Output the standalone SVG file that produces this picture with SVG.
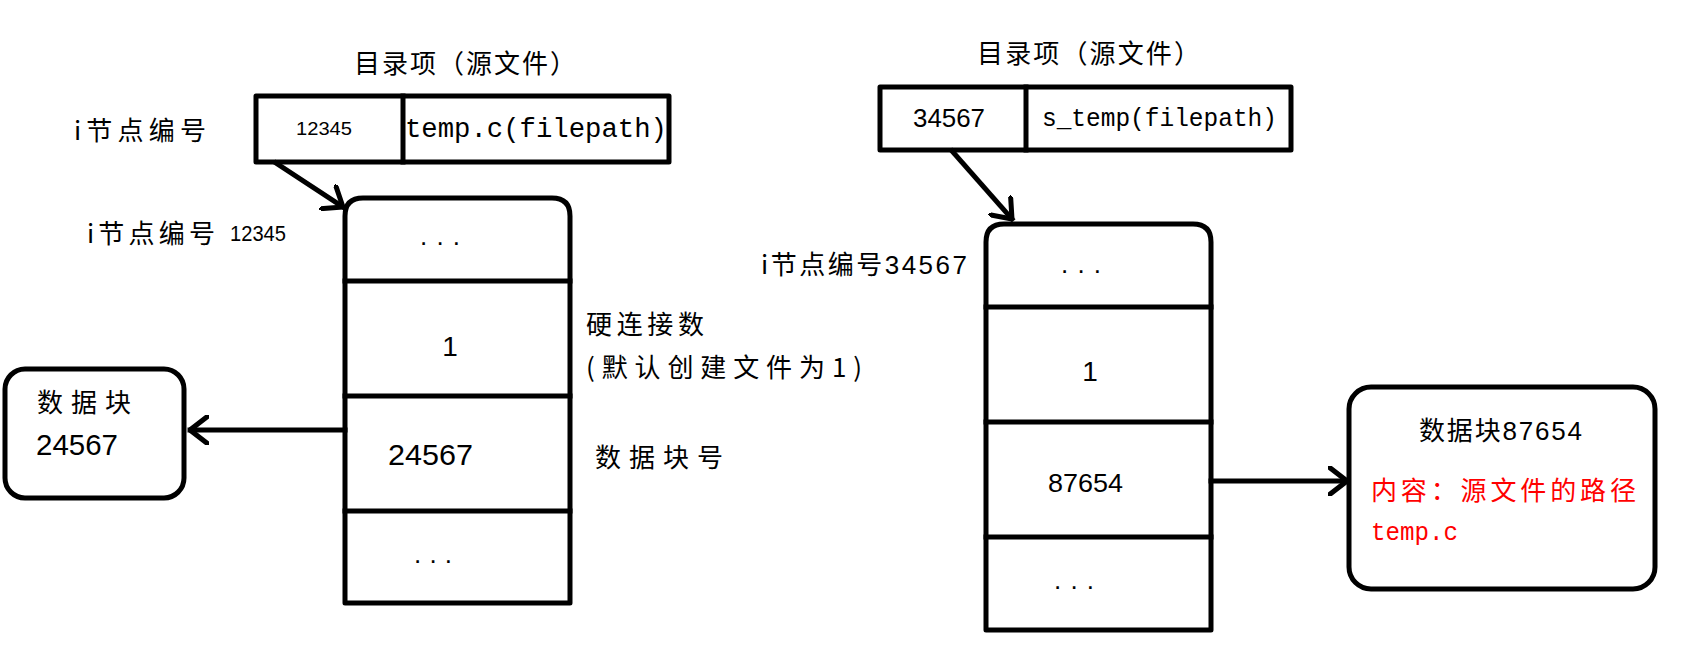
<svg xmlns="http://www.w3.org/2000/svg" width="1697" height="645" viewBox="0 0 1697 645">
<style>
.ln{fill:none;stroke:#000;stroke-width:5;stroke-linecap:square;stroke-linejoin:round}
.cj{font-family:"Noto Sans CJK SC","Liberation Sans",sans-serif;font-size:26px;fill:#000}
.nm{font-family:"Liberation Sans","Noto Sans CJK SC",sans-serif;fill:#000}
.mo{font-family:"Liberation Mono","Noto Sans CJK SC",monospace;fill:#000}
.red{fill:#ff0000}
.dots{font-family:"Liberation Sans",sans-serif;font-size:26px;fill:#000}
</style>
<defs>
<marker id="ah" viewBox="0 0 20 30" refX="19" refY="15" markerWidth="20" markerHeight="30" markerUnits="userSpaceOnUse" orient="auto">
<path d="M1,1 L19,15 L1,29" fill="none" stroke="#000" stroke-width="5" stroke-linejoin="round" stroke-linecap="round"/>
</marker>
</defs>

<g id="dir-left">
<text class="cj" x="354" y="73" textLength="222" lengthAdjust="spacing">目录项（源文件）</text>
<text class="cj" x="74" y="140" textLength="132" lengthAdjust="spacing">i节点编号</text>
<rect class="ln" x="256" y="96" width="413" height="66"/>
<line class="ln" x1="403" y1="96" x2="403" y2="162"/>
<text class="nm" x="296" y="135" font-size="19" textLength="56" lengthAdjust="spacingAndGlyphs">12345</text>
<text class="mo" x="405" y="137" font-size="27" textLength="262" lengthAdjust="spacingAndGlyphs">temp.c(filepath)</text>
</g>

<g id="inode-left">
<text class="cj" x="87" y="243" textLength="128" lengthAdjust="spacing">i节点编号</text>
<text class="nm" x="230" y="241" font-size="22" textLength="56" lengthAdjust="spacingAndGlyphs">12345</text>
<path class="ln" d="M345,603 L345,216 Q345,198 363,198 L552,198 Q570,198 570,216 L570,603 Z"/>
<line class="ln" x1="345" y1="281" x2="570" y2="281"/>
<line class="ln" x1="345" y1="396" x2="570" y2="396"/>
<line class="ln" x1="345" y1="511" x2="570" y2="511"/>
<text class="dots" x="420" y="245" textLength="40" lengthAdjust="spacing">...</text>
<text class="nm" x="450" y="356" font-size="28" text-anchor="middle">1</text>
<text class="nm" x="388" y="465" font-size="30" textLength="85" lengthAdjust="spacingAndGlyphs">24567</text>
<text class="dots" x="414" y="563" textLength="38" lengthAdjust="spacing">...</text>
<text class="cj" x="586" y="334" font-size="27" textLength="118" lengthAdjust="spacing">硬连接数</text>
<text class="cj" x="586" y="377" font-size="27" textLength="276" lengthAdjust="spacing">(默认创建文件为1)</text>
<text class="cj" x="595" y="467" font-size="27" textLength="128" lengthAdjust="spacing">数据块号</text>
</g>

<g id="block-left">
<rect class="ln" x="5" y="369" width="179" height="129" rx="20" ry="20"/>
<text class="cj" x="37" y="412" font-size="27" textLength="94" lengthAdjust="spacing">数据块</text>
<text class="nm" x="36" y="455" font-size="30" textLength="82" lengthAdjust="spacingAndGlyphs">24567</text>
</g>

<g id="dir-right">
<text class="cj" x="977" y="63" textLength="223" lengthAdjust="spacing">目录项（源文件）</text>
<rect class="ln" x="880" y="87" width="411" height="63"/>
<line class="ln" x1="1026" y1="87" x2="1026" y2="150"/>
<text class="nm" x="913" y="127" font-size="26" textLength="72" lengthAdjust="spacingAndGlyphs">34567</text>
<text class="mo" x="1042" y="126" font-size="25" textLength="235" lengthAdjust="spacingAndGlyphs">s_temp(filepath)</text>
</g>

<g id="inode-right">
<text class="cj" x="761" y="274" textLength="206" lengthAdjust="spacing">i节点编号<tspan class="nm">34567</tspan></text>
<path class="ln" d="M986,630 L986,242 Q986,224 1004,224 L1193,224 Q1211,224 1211,242 L1211,630 Z"/>
<line class="ln" x1="986" y1="307" x2="1211" y2="307"/>
<line class="ln" x1="986" y1="422" x2="1211" y2="422"/>
<line class="ln" x1="986" y1="537" x2="1211" y2="537"/>
<text class="dots" x="1061" y="273" textLength="40" lengthAdjust="spacing">...</text>
<text class="nm" x="1090" y="381" font-size="28" text-anchor="middle">1</text>
<text class="nm" x="1048" y="492" font-size="26" textLength="75" lengthAdjust="spacingAndGlyphs">87654</text>
<text class="dots" x="1054" y="589" textLength="40" lengthAdjust="spacing">...</text>
</g>

<g id="block-right">
<rect class="ln" x="1349" y="387" width="306" height="202" rx="22" ry="22"/>
<text class="cj" x="1419" y="440" font-size="27" textLength="163" lengthAdjust="spacing">数据块<tspan class="nm">87654</tspan></text>
<text class="cj red" x="1371" y="500" font-size="27" textLength="265" lengthAdjust="spacing">内容：源文件的路径</text>
<text class="mo red" x="1371" y="540" font-size="25" textLength="87" lengthAdjust="spacingAndGlyphs">temp.c</text>
</g>

<g id="connectors">
<line class="ln" x1="276" y1="163" x2="343" y2="207" marker-end="url(#ah)"/>
<line class="ln" x1="952" y1="151" x2="1012" y2="219" marker-end="url(#ah)"/>
<line class="ln" x1="345" y1="430" x2="190" y2="430" marker-end="url(#ah)"/>
<line class="ln" x1="1211" y1="481" x2="1347" y2="481" marker-end="url(#ah)"/>
</g>
</svg>
